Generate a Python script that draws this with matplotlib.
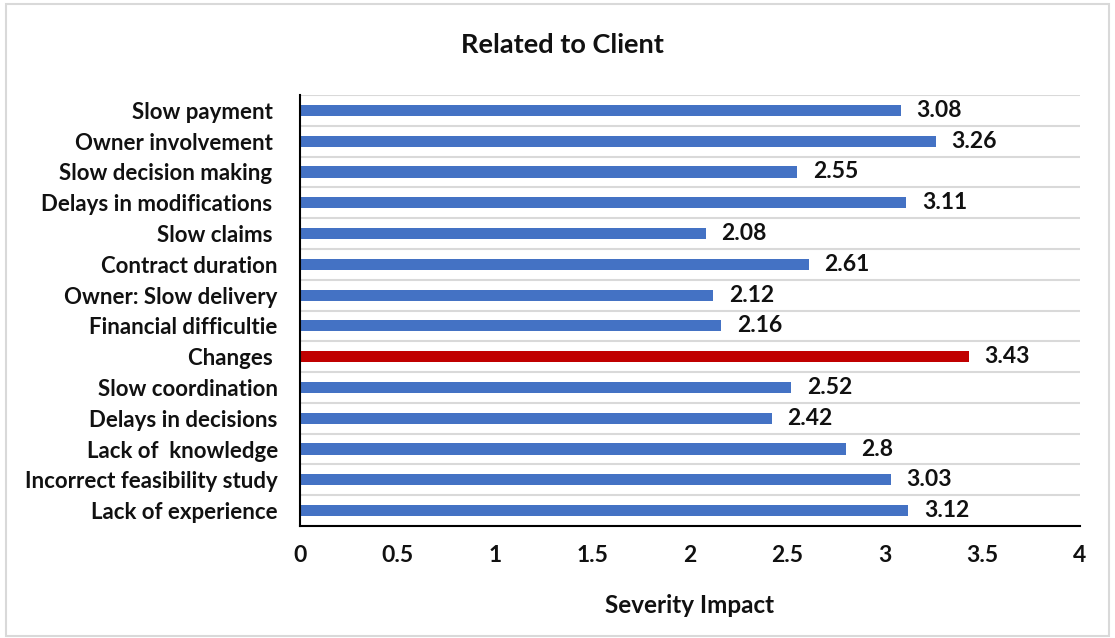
import matplotlib.pyplot as plt
from matplotlib.patches import Rectangle

categories = ['Slow payment ', 'Owner involvement ', 'Slow decision making ',
              'Delays in modifications ', 'Slow claims ', 'Contract duration',
              'Owner: Slow delivery', 'Financial difficultie', 'Changes ',
              'Slow coordination', 'Delays in decisions', 'Lack of  knowledge',
              'Incorrect feasibility study', 'Lack of experience']
values = [3.08, 3.26, 2.55, 3.11, 2.08, 2.61, 2.12, 2.16, 3.43, 2.52, 2.42, 2.8, 3.03, 3.12]
labels = ['3.08', '3.26', '2.55', '3.11', '2.08', '2.61', '2.12', '2.16', '3.43',
          '2.52', '2.42', '2.8', '3.03', '3.12']
highlight = 'Changes '

blue = '#4472C4'
red = '#C00000'
txt = '#111111'
plt.rcParams['font.family'] = ['Lato', 'DejaVu Sans']
plt.rcParams['font.weight'] = 'bold'

fig = plt.figure(figsize=(11.15, 6.38), dpi=100)
ax = fig.add_axes([300 / 1115, 1 - 526 / 638, 780 / 1115, 431 / 638])

n = len(categories)
ypos = list(range(n))[::-1]
colors = [red if c == highlight else blue for c in categories]
ax.barh(ypos, values, height=0.36, color=colors, zorder=3)

for y, v, lab in zip(ypos, values, labels):
    ax.text(v + 0.08, y, lab, va='center', ha='left', fontsize=16.5, fontweight='bold', color=txt)

ax.set_xlim(0, 4)
ax.set_ylim(-0.5, n - 0.5)
ax.set_yticks(ypos)
ax.set_yticklabels(categories, fontsize=16, fontweight='bold', color=txt)
ax.set_xticks([0, 0.5, 1, 1.5, 2, 2.5, 3, 3.5, 4])
ax.set_xticklabels(['0', '0.5', '1', '1.5', '2', '2.5', '3', '3.5', '4'],
                   fontsize=16.5, fontweight='bold', color=txt)
ax.tick_params(axis='both', length=0)
ax.tick_params(axis='x', pad=14)
ax.tick_params(axis='y', pad=16)

# gray lines between categories
for k in range(n + 1):
    ax.axhline(k - 0.5, color='#d9d9d9', lw=1.5, zorder=1)

for s in ['top', 'right']:
    ax.spines[s].set_visible(False)
ax.spines['left'].set_color('black')
ax.spines['left'].set_linewidth(1.5)
ax.spines['bottom'].set_color('black')
ax.spines['bottom'].set_linewidth(1.5)
ax.spines['left'].set_zorder(4)
ax.spines['bottom'].set_zorder(4)

ax.set_xlabel('Severity Impact', fontsize=17.5, fontweight='bold', labelpad=20, color=txt)
fig.text(562 / 1115, 1 - 45 / 638, 'Related to Client', ha='center', va='center',
         fontsize=19.5, fontweight='bold', color=txt)

fig.patches.append(Rectangle((6 / 1115, 2 / 638), 1103 / 1115, 632 / 638,
                             transform=fig.transFigure, fill=False,
                             edgecolor='#d9d9d9', lw=1.5))

fig.savefig('out.png', dpi=100)
